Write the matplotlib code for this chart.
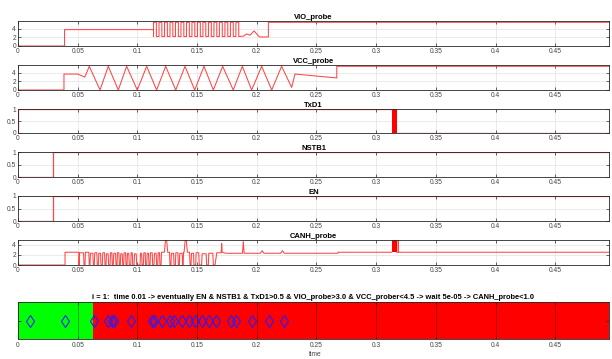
import matplotlib
matplotlib.use("Agg")
import matplotlib.pyplot as plt

plt.rcParams["font.family"] = ["Liberation Sans", "DejaVu Sans"]

T_END = 0.495

x_ticks = [0, 0.05, 0.1, 0.15, 0.2, 0.25, 0.3, 0.35, 0.4, 0.45]
x_tick_labels = ["0", "0.05", "0.1", "0.15", "0.2", "0.25", "0.3", "0.35", "0.4", "0.45"]

# VIO_probe: step, flat part, burst of pulses, then a few bumps
vio_head_t = [0, 0.039, 0.039, 0.1135]
vio_head_v = [0, 0, 3.8, 3.8]
vio_rise = [0.1135, 0.1181, 0.1227, 0.1273, 0.1319, 0.1365, 0.1411, 0.1457,
            0.1503, 0.1549, 0.1595, 0.1641, 0.1687, 0.1733, 0.1779, 0.1825]
vio_fall = [0.1159, 0.1205, 0.1251, 0.1297, 0.1343, 0.1389, 0.1435, 0.1481,
            0.1527, 0.1573, 0.1619, 0.1665, 0.1711, 0.1757, 0.1803, 0.1849]
vio_low = 2.2
vio_high = 5.5
vio_tail_t = [0.189, 0.1915, 0.1943, 0.1977, 0.2022, 0.2097, 0.2097, T_END]
vio_tail_v = [2.3, 2.8, 2.5, 3.5, 2.1, 2.1, 5.5, 5.5]

# VCC_probe: triangle wave vertices
vcc_t = [0, 0.0385, 0.0385, 0.050, 0.056, 0.0597, 0.0687, 0.0756, 0.0840, 0.0910,
         0.0999, 0.1078, 0.1161, 0.1237, 0.1321, 0.1399, 0.1480, 0.1558, 0.1636,
         0.1714, 0.1803, 0.1879, 0.1957, 0.2041, 0.2125, 0.2208, 0.2292, 0.2320,
         0.2670, 0.2670, T_END]
vcc_v = [0, 0, 3.7, 3.7, 3.0, 5.5, 0, 5.5, 0, 5.5,
         0, 5.5, 0, 5.5, 0, 5.5, 0, 5.5, 0,
         5.5, 0, 5.5, 0, 5.5, 0, 5.5, 0.6, 3.7,
         2.8, 5.5, 5.5]

# digital lines
txd_t = [0, 0, 0.313]
txd_v = [0, 1, 1]
txd_burst = [0.313, 0.3172]
txd_after_t = [0.3172, T_END]
txd_after_v = [0, 0]
nstb_t = [0, 0.0296, 0.0296, T_END]
nstb_v = [0, 0, 1, 1]
en_t = [0, 0.0296, 0.0296, T_END]
en_v = [0, 0, 1, 1]

# CANH_probe
canh_head_t = [0, 0.0394, 0.0394, 0.0510]
canh_head_v = [0, 0, 2.5, 2.5]
canh_start = [0.0511, 0.0561, 0.0603, 0.0639, 0.0673, 0.0706, 0.0737, 0.0771,
              0.0798, 0.0829, 0.0857, 0.0885, 0.0913, 0.0944, 0.0972, 0.1022,
              0.1050, 0.1078, 0.1106, 0.1139, 0.1170, 0.1198, 0.1281, 0.1318,
              0.1351, 0.1383, 0.1449, 0.1488, 0.1538, 0.1594]
canh_end = [0.0553, 0.0597, 0.0631, 0.0664, 0.0695, 0.0729, 0.0759, 0.0790,
            0.0821, 0.0849, 0.0877, 0.0905, 0.0932, 0.0961, 0.0994, 0.1039,
            0.1069, 0.1097, 0.1128, 0.1161, 0.1189, 0.1273, 0.1307, 0.1343,
            0.1379, 0.1441, 0.1474, 0.1518, 0.1580, 0.1636]
canh_high = [2.4, 2.5, 2.3, 2.4, 2.3, 2.4, 2.2, 2.4, 2.3, 2.4, 2.2, 2.4, 2.3, 2.4, 2.2,
             2.3, 2.4, 2.3, 2.4, 2.3, 2.4, 2.5, 2.3, 2.4, 2.3, 2.5, 2.3, 2.4, 2.2, 2.3]
canh_bump_t = [0.1240, 0.1405]
canh_bump_v = [4.8, 4.8]
canh_tail_t = [0.1650, 0.1665, 0.1702, 0.1706, 0.1710, 0.1740, 0.1880, 0.1887, 0.1894,
               0.2030, 0.2045, 0.2060, 0.2200, 0.2215, 0.2230, 0.2680, 0.2680, 0.3130]
canh_tail_v = [0, 2.4, 2.4, 4.2, 2.5, 2.3, 2.3, 4.6, 2.3,
               2.3, 2.8, 2.3, 2.3, 2.8, 2.3, 2.3, 2.5, 2.5]
canh_burst = [0.313, 0.3172]
canh_end_t = [0.3172, 0.3183, 0.3184, 0.3186, 0.3187, T_END]
canh_end_v = [2.5, 2.5, 4.9, 4.9, 2.5, 2.5]

# bottom check panel
pass_until = 0.0628
check_times = [0.010, 0.039, 0.064, 0.075, 0.079, 0.080, 0.095, 0.112, 0.114, 0.121,
               0.127, 0.131, 0.137, 0.143, 0.148, 0.154, 0.160, 0.166, 0.178, 0.183,
               0.196, 0.210, 0.223]
check_title = ("i = 1:  time 0.01 -> eventually EN & NSTB1 & TxD1>0.5 & VIO_probe>3.0 "
               "& VCC_prober<4.5 -> wait 5e-05 -> CANH_probe<1.0")

LINE = "#ff4545"
W, H = 612, 359


def rect(top, bottom):
    return [18 / W, 1 - bottom / H, (609 - 18) / W, (bottom - top) / H]


def style(ax, title, yticks, ylabels, ylim):
    ax.set_xlim(0, T_END)
    ax.set_ylim(*ylim)
    ax.set_xticks(x_ticks)
    ax.set_xticklabels(x_tick_labels)
    ax.set_yticks(yticks)
    ax.set_yticklabels(ylabels)
    ax.tick_params(direction="in", length=2.5, width=0.5, top=True, right=True,
                   labelsize=4.8, pad=1.5, labelcolor="#444444", color="#262626")
    for s in ax.spines.values():
        s.set_color("#262626")
        s.set_linewidth(0.6)
    ax.grid(True, color="#e3e3e3", linewidth=0.5)
    ax.set_axisbelow(True)
    if title:
        ax.set_title(title, fontsize=5.5, fontweight="bold", pad=1.5)


def vio_points():
    t = list(vio_head_t)
    v = list(vio_head_v)
    for r, f in zip(vio_rise, vio_fall):
        t += [r, r, f, f]
        v += [vio_low, vio_high, vio_high, vio_low]
    t += vio_tail_t
    v += vio_tail_v
    return t, v


def canh_points():
    t = list(canh_head_t)
    v = list(canh_head_v)
    for s, e, h in zip(canh_start, canh_end, canh_high):
        bumps = [(bt, bv) for bt, bv in zip(canh_bump_t, canh_bump_v) if s < bt < e]
        t += [s, s + 0.0004]
        v += [0, h]
        for bt, bv in bumps:
            t += [bt - 0.0014, bt - 0.0005, bt + 0.0005, bt + 0.0014]
            v += [h, bv, bv, h]
        t += [e - 0.0004, e]
        v += [h, 0]
    t += canh_tail_t
    v += canh_tail_v
    return t, v


fig = plt.figure(figsize=(W / 100, H / 100), dpi=100)

probe_ticks = [0, 2, 4]
probe_labels = ["0", "2", "4"]
dig_ticks = [0, 0.5, 1]
dig_labels = ["0", "0.5", "1"]

ax = fig.add_axes(rect(21, 46))
t, v = vio_points()
ax.plot(t, v, color=LINE, lw=0.75)
style(ax, "VIO_probe", probe_ticks, probe_labels, (0, 5.8))

ax = fig.add_axes(rect(65, 90))
ax.plot(vcc_t, vcc_v, color=LINE, lw=0.75)
style(ax, "VCC_probe", probe_ticks, probe_labels, (0, 5.8))

ax = fig.add_axes(rect(109, 133))
ax.plot(txd_t, txd_v, color=LINE, lw=0.9)
ax.fill_between(txd_burst, 0, 1, color="#ff0000", lw=0)
ax.plot(txd_after_t, txd_after_v, color=LINE, lw=0.9)
style(ax, "TxD1", dig_ticks, dig_labels, (0, 1))

ax = fig.add_axes(rect(152, 177))
ax.plot(nstb_t, nstb_v, color=LINE, lw=0.9)
style(ax, "NSTB1", dig_ticks, dig_labels, (0, 1))

ax = fig.add_axes(rect(196, 221))
ax.plot(en_t, en_v, color=LINE, lw=0.9)
style(ax, "EN", dig_ticks, dig_labels, (0, 1))

ax = fig.add_axes(rect(240, 265))
t, v = canh_points()
ax.plot(t, v, color=LINE, lw=0.75)
ax.fill_between(canh_burst, 2.5, 4.9, color="#ff0000", lw=0)
ax.plot(canh_end_t, canh_end_v, color=LINE, lw=0.75)
style(ax, "CANH_probe", probe_ticks, probe_labels, (0, 4.9))

# check result panel
ax = fig.add_axes(rect(302, 339))
ax.axvspan(0, pass_until, color="#00ff00", lw=0)
ax.axvspan(pass_until, T_END, color="#ff0000", lw=0)
ax.plot(check_times, [1] * len(check_times), linestyle="none", marker="d",
        markersize=6, markerfacecolor="none", markeredgecolor="#2020ff", markeredgewidth=0.8)
ax.set_xlim(0, T_END)
ax.set_ylim(0.5, 1.5)
ax.set_xticks(x_ticks)
ax.set_xticklabels(x_tick_labels)
ax.set_yticks([1])
ax.set_yticklabels([""])
ax.tick_params(direction="in", length=2.5, width=0.5, top=True, right=True,
               labelsize=4.8, pad=2, labelcolor="#444444", color="#262626")
for s in ax.spines.values():
    s.set_color("#262626")
    s.set_linewidth(0.6)
ax.grid(True, axis="x", color="#000000", alpha=0.4, linewidth=0.6)
ax.set_title(check_title, fontsize=5.4, fontweight="bold", pad=2)
fig.text(0.515, 0.012, "time", fontsize=4.8, color="#444444", ha="center", va="center")

fig.savefig("out.png", dpi=100)
plt.close("all")
